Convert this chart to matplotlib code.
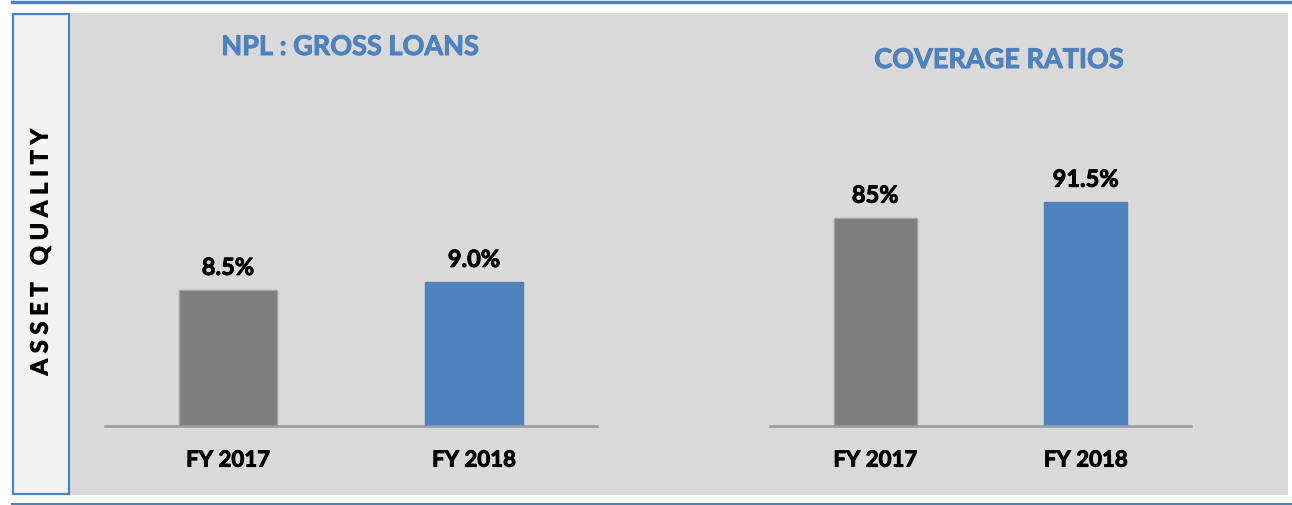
import matplotlib
matplotlib.use("Agg")
import matplotlib.pyplot as plt
import matplotlib.patheffects as pe
from matplotlib.patches import Rectangle
from matplotlib.lines import Line2D

categories = ["FY 2017", "FY 2018"]
npl_values = [8.5, 9.0]
npl_labels = ["8.5%", "9.0%"]
cov_values = [85, 91.5]
cov_labels = ["85%", "91.5%"]
titles = ["NPL : GROSS LOANS", "COVERAGE RATIOS"]
side_label = "A S S E T   Q U A L I T Y"

W, H = 1292, 505
fig = plt.figure(figsize=(W / 100, H / 100), dpi=100)
fig.patch.set_facecolor("white")
plt.rcParams['font.family'] = ['Lato', 'DejaVu Sans']
WEIGHT = "bold"

BLUE = "#4F81BD"
GREY = "#7F7F7F"

def thick(color):
    return [pe.withStroke(linewidth=0.7, foreground=color)]

def px(x0, y0, x1, y1):
    return [x0 / W, 1 - y1 / H, (x1 - x0) / W, (y1 - y0) / H]

# background panels
bg = fig.add_axes([0, 0, 1, 1])
bg.set_xlim(0, W)
bg.set_ylim(H, 0)
bg.axis("off")
bg.add_patch(Rectangle((69, 13), W - 4 - 69, 482, facecolor="#D9D9D9", edgecolor="none"))
bg.add_patch(Rectangle((13, 14), 56, 480, facecolor="#F2F2F2", edgecolor=BLUE, linewidth=1.6))
bg.add_line(Line2D([12, W], [1.5, 1.5], color=BLUE, linewidth=2.5))
bg.add_line(Line2D([12, W], [503.5, 503.5], color=BLUE, linewidth=2.2))
bg.text(40, 252, side_label, rotation=90, ha="center", va="center",
        fontsize=17, fontweight=WEIGHT, color="black", path_effects=thick("black"))

def panel(rect, values, labels, ymax, title, title_xy, width):
    ax = fig.add_axes(rect)
    ax.set_facecolor("none")
    colors = [GREY, BLUE]
    edges = ["#A0A0A0", BLUE]
    x = list(range(len(values)))
    ax.bar(x, values, width=width, color=colors, edgecolor=edges, linewidth=1)
    ax.set_xlim(-0.5, len(values) - 0.5)
    ax.set_ylim(0, ymax)
    for s in ["top", "right", "left"]:
        ax.spines[s].set_visible(False)
    ax.spines["bottom"].set_color("#9A9A9A")
    ax.spines["bottom"].set_linewidth(1.8)
    ax.set_yticks([])
    ax.set_xticks(x)
    ax.set_xticklabels(categories, fontsize=16, fontweight=WEIGHT)
    for t in ax.get_xticklabels():
        t.set_path_effects(thick("black"))
    ax.tick_params(axis="x", length=0, pad=17)
    for xi, v, lab in zip(x, values, labels):
        ax.annotate(lab, (xi, v), xytext=(0, 8), textcoords="offset points",
                    ha="center", va="bottom", fontsize=17, fontweight=WEIGHT,
                    path_effects=thick("black"))
    bg.text(title_xy[0], title_xy[1], title, ha="center", va="center",
            fontsize=19.5, fontweight=WEIGHT, color=BLUE, path_effects=thick(BLUE))
    return ax

panel(px(105, 106, 597, 426), npl_values, npl_labels, 20, titles[0], (350, 47), 0.40)
panel(px(770, 181, 1191, 426), cov_values, cov_labels, 100, titles[1], (999, 60), 0.395)

fig.savefig("out.png", dpi=100, facecolor="white")
